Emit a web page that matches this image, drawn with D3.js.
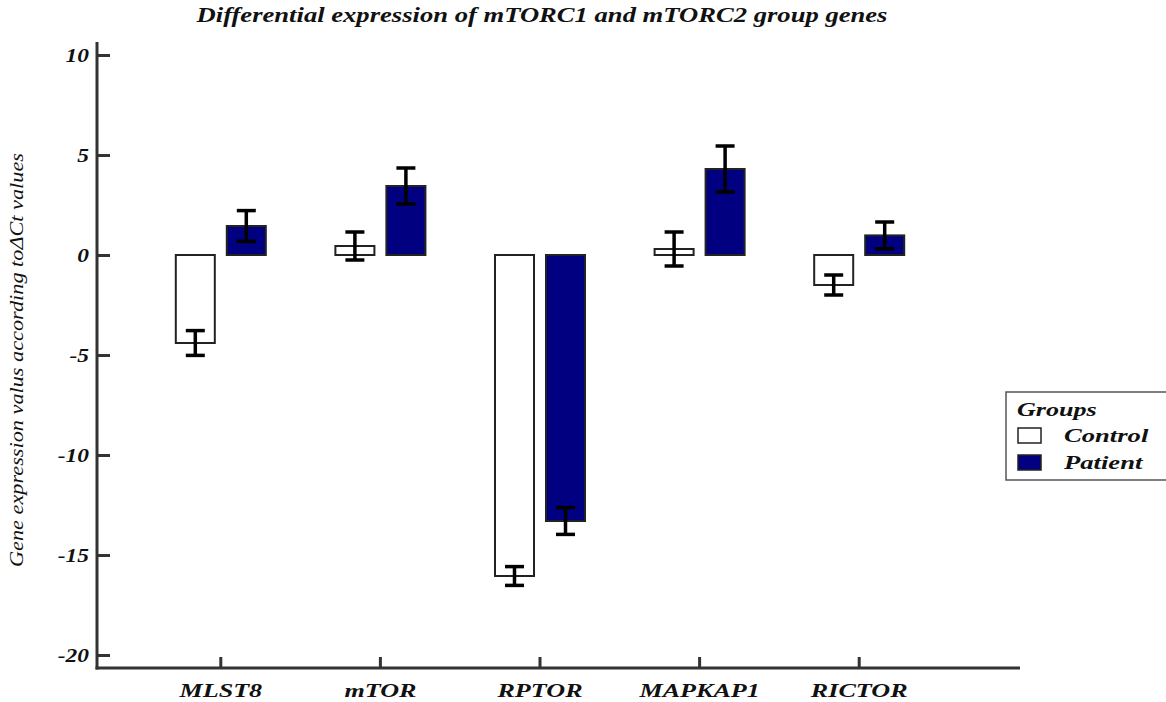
<!DOCTYPE html>
<html>
<head>
<meta charset="utf-8">
<script src="https://cdn.jsdelivr.net/npm/d3@7"></script>
<style>
  html, body { margin: 0; padding: 0; background: #fff; }
  svg { display: block; }
  text { font-family: "Liberation Serif", "Times New Roman", serif; font-style: italic; }
</style>
</head>
<body>
<svg id="chart" width="1166" height="702"></svg>
<script>
// Genes on the x axis
const genes = ["MLST8", "mTOR", "RPTOR", "MAPKAP1", "RICTOR"];
// Groups shown side by side inside each gene
const groups = ["Control", "Patient"];
// Mean expression (ΔCt based) per gene
const controlMeans = [-4.4, 0.45, -16.05, 0.3, -1.5];
const patientMeans = [1.45, 3.45, -13.3, 4.3, 0.98];
// Error bar half-lengths
const controlErrors = [0.62, 0.7, 0.47, 0.85, 0.5];
const patientErrors = [0.77, 0.9, 0.67, 1.15, 0.67];
// Y axis ticks
const yTicks = [-20, -15, -10, -5, 0, 5, 10];
const yTickLabels = ["-20", "-15", "-10", "-5", "0", "5", "10"];

const titleText = "Differential expression of mTORC1 and mTORC2 group genes";
const yLabelText = "Gene expression valus according to\u0394Ct values";
const legendTitle = "Groups";

const groupColors = { Control: "#ffffff", Patient: "#000080" };

const rows = genes.map((g, i) => ({
  gene: g,
  values: [
    { group: "Control", mean: controlMeans[i], err: controlErrors[i] },
    { group: "Patient", mean: patientMeans[i], err: patientErrors[i] }
  ]
}));

const svg = d3.select("#chart");

// Horizontal text in this figure is drawn wide; stretch each label by a factor
function widen(sel, k) {
  sel.each(function () {
    const len = this.getComputedTextLength();
    d3.select(this).attr("textLength", len * k).attr("lengthAdjust", "spacingAndGlyphs");
  });
}

const axisLeftX = 97, axisBottomY = 668, axisTopY = 42, axisRightX = 1020;

const y = d3.scaleLinear().domain([-20, 10]).range([655, 55]);
const x0 = d3.scaleBand().domain(genes).range([141, 939]).paddingInner(0.436).paddingOuter(0.218);
const x1 = d3.scaleBand().domain(groups).range([0, x0.bandwidth()]).paddingInner(0.235);

// Title
svg.append("text")
  .attr("x", 542).attr("y", 22)
  .attr("text-anchor", "middle")
  .attr("font-size", 20).attr("font-weight", "bold").attr("fill", "#111")
  .text(titleText)
  .call(widen, 1.33);

// Y axis
const yAxis = d3.axisLeft(y).tickValues(yTicks)
  .tickFormat((d, i) => yTickLabels[i]).tickSize(-13).tickSizeOuter(0).tickPadding(8);
const gy = svg.append("g").attr("transform", `translate(${axisLeftX},0)`).call(yAxis);
gy.select(".domain").remove();
gy.selectAll(".tick line").attr("stroke", "#333").attr("stroke-width", 3);
gy.selectAll(".tick text")
  .attr("font-size", 18).attr("font-weight", "bold").attr("fill", "#111")
  .attr("dy", "0.36em").attr("font-family", "Liberation Serif")
  .call(widen, 1.3);

// X axis
const xAxis = d3.axisBottom(x0).tickSize(-11).tickSizeOuter(0).tickPadding(16);
const gx = svg.append("g").attr("transform", `translate(0,${axisBottomY})`).call(xAxis);
gx.select(".domain").remove();
gx.selectAll(".tick line").attr("stroke", "#333").attr("stroke-width", 3);
gx.selectAll(".tick text")
  .attr("font-size", 18).attr("font-weight", "bold").attr("fill", "#111")
  .attr("font-family", "Liberation Serif")
  .call(widen, 1.45);

// Axis lines
svg.append("line").attr("x1", axisLeftX).attr("x2", axisLeftX)
  .attr("y1", axisTopY).attr("y2", axisBottomY + 1.5)
  .attr("stroke", "#333").attr("stroke-width", 3);
svg.append("line").attr("x1", axisLeftX - 1.5).attr("x2", axisRightX)
  .attr("y1", axisBottomY).attr("y2", axisBottomY)
  .attr("stroke", "#333").attr("stroke-width", 3);

// Y axis title
svg.append("text")
  .attr("transform", `translate(23,360) rotate(-90)`)
  .attr("text-anchor", "middle")
  .attr("font-size", 19)
  .attr("fill", "#111")
  .text(yLabelText)
  .attr("textLength", 414).attr("lengthAdjust", "spacingAndGlyphs");

// Bars
const geneG = svg.append("g").selectAll("g").data(rows).join("g")
  .attr("transform", d => `translate(${x0(d.gene)},0)`);

geneG.selectAll("rect").data(d => d.values).join("rect")
  .attr("x", d => x1(d.group))
  .attr("width", x1.bandwidth())
  .attr("y", d => y(Math.max(0, d.mean)))
  .attr("height", d => Math.abs(y(d.mean) - y(0)))
  .attr("fill", d => groupColors[d.group])
  .attr("stroke", "#222").attr("stroke-width", 2);

// Error bars
const capW = 19;
const eb = geneG.selectAll("g.err").data(d => d.values).join("g").attr("class", "err")
  .attr("stroke", "#000").attr("stroke-width", 3.5);
eb.append("line")
  .attr("x1", d => x1(d.group) + x1.bandwidth() / 2)
  .attr("x2", d => x1(d.group) + x1.bandwidth() / 2)
  .attr("y1", d => y(d.mean + d.err)).attr("y2", d => y(d.mean - d.err));
eb.append("line")
  .attr("x1", d => x1(d.group) + x1.bandwidth() / 2 - capW / 2)
  .attr("x2", d => x1(d.group) + x1.bandwidth() / 2 + capW / 2)
  .attr("y1", d => y(d.mean + d.err)).attr("y2", d => y(d.mean + d.err));
eb.append("line")
  .attr("x1", d => x1(d.group) + x1.bandwidth() / 2 - capW / 2)
  .attr("x2", d => x1(d.group) + x1.bandwidth() / 2 + capW / 2)
  .attr("y1", d => y(d.mean - d.err)).attr("y2", d => y(d.mean - d.err));

// Legend
const lg = svg.append("g").attr("transform", "translate(1006,392)");
lg.append("rect").attr("x", 0).attr("y", 0).attr("width", 180).attr("height", 88)
  .attr("fill", "#fff").attr("stroke", "#555").attr("stroke-width", 1.5);
lg.append("text").attr("x", 11).attr("y", 24)
  .attr("font-size", 18).attr("font-weight", "bold").attr("fill", "#111")
  .text(legendTitle).call(widen, 1.45);
const items = lg.selectAll("g.item").data(groups).join("g").attr("class", "item")
  .attr("transform", (d, i) => `translate(0,${44 + i * 27})`);
items.append("rect").attr("x", 12).attr("y", -8).attr("width", 23).attr("height", 15)
  .attr("fill", d => groupColors[d]).attr("stroke", "#222").attr("stroke-width", 1.5);
items.append("text").attr("x", 58).attr("y", 6)
  .attr("font-size", 19).attr("font-weight", "bold").attr("fill", "#111")
  .text(d => d).call(widen, 1.4);
</script>
</body>
</html>
